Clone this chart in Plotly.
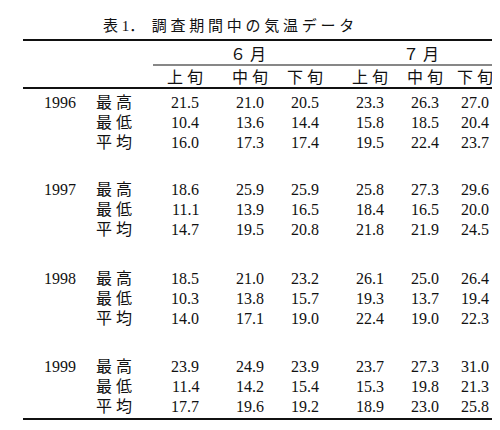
import plotly.graph_objects as go

title = "表 1．  調 査 期 間 中 の 気 温 デ ー タ"
months = ["６ 月", "７ 月"]
periods = ["上 旬", "中 旬", "下 旬", "上 旬", "中 旬", "下 旬"]
years = ["1996", "1997", "1998", "1999"]
stats = ["最 高", "最 低", "平 均"]
values = {
    "1996": [[21.5, 21.0, 20.5, 23.3, 26.3, 27.0],
             [10.4, 13.6, 14.4, 15.8, 18.5, 20.4],
             [16.0, 17.3, 17.4, 19.5, 22.4, 23.7]],
    "1997": [[18.6, 25.9, 25.9, 25.8, 27.3, 29.6],
             [11.1, 13.9, 16.5, 18.4, 16.5, 20.0],
             [14.7, 19.5, 20.8, 21.8, 21.9, 24.5]],
    "1998": [[18.5, 21.0, 23.2, 26.1, 25.0, 26.4],
             [10.3, 13.8, 15.7, 19.3, 13.7, 19.4],
             [14.0, 17.1, 19.0, 22.4, 19.0, 22.3]],
    "1999": [[23.9, 24.9, 23.9, 23.7, 27.3, 31.0],
             [11.4, 14.2, 15.4, 15.3, 19.8, 21.3],
             [17.7, 19.6, 19.2, 18.9, 23.0, 25.8]],
}

col_x = [177, 242, 297, 362, 417, 467]
month_x = [240, 413]
year_y0 = [94, 181, 270, 358]
row_gap = 20
FONT = "Liberation Serif, Noto Sans CJK JP"

fig = go.Figure()
ann = []
def txt(x, y, s, size=16):
    ann.append(dict(x=x, y=y, text=s, showarrow=False, xref="x", yref="y",
                    font=dict(size=size, color="#111", family=FONT)))

txt(220, 17, title, 15)
for m, x in zip(months, month_x):
    txt(x, 46, m)
for p, x in zip(periods, col_x):
    txt(x, 69, p)
for yr, y0 in zip(years, year_y0):
    txt(52, y0, yr)
    for i, st in enumerate(stats):
        y = y0 + i * row_gap
        txt(106, y, st)
        for v, x in zip(values[yr][i], col_x):
            txt(x, y, f"{v:.1f}")

lines = [(15, 488, 32, 2), (145, 488, 57, 1.2), (15, 488, 80, 2), (15, 488, 411, 2)]
shapes = [dict(type="line", x0=a, x1=b, y0=y, y1=y, xref="x", yref="y",
               line=dict(color="#111", width=w)) for a, b, y, w in lines]

fig.update_layout(
    width=500, height=430, margin=dict(l=0, r=0, t=0, b=0),
    paper_bgcolor="white", plot_bgcolor="white",
    xaxis=dict(range=[0, 500], visible=False),
    yaxis=dict(range=[430, 0], visible=False),
    annotations=ann, shapes=shapes, showlegend=False,
)
fig.write_html("out.html")
